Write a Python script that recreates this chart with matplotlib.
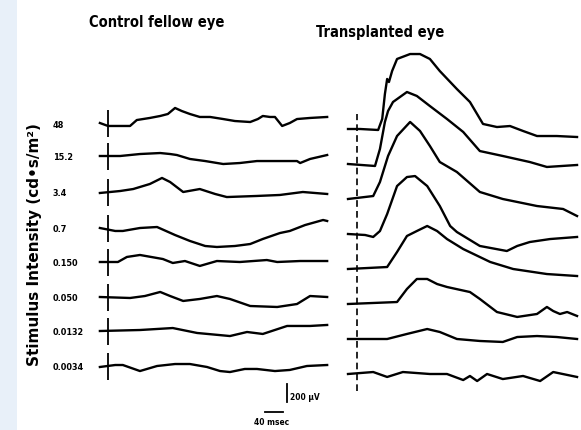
import numpy as np
import matplotlib
matplotlib.use("Agg")
import matplotlib.pyplot as plt
from matplotlib.patches import Rectangle
from matplotlib import font_manager

# ---------------------------------------------------------------------------
# Data: ERG traces, time in ms after flash, amplitude in uV (relative to baseline)
# ---------------------------------------------------------------------------
INTENSITIES = ["48", "15.2", "3.4", "0.7", "0.150", "0.050", "0.0132", "0.0034"]

# Control fellow eye
CTRL_T = [
    [-18, 0, 27, 49, 64, 93, 116, 133, 149, 164, 182, 204, 227, 256, 282, 316, 333, 344, 360, 371, 387, 404, 420, 449, 487],
    [-18, 27, 71, 116, 138, 153, 182, 216, 256, 293, 331, 382, 420, 427, 449, 487],
    [-18, 27, 56, 93, 120, 138, 167, 204, 238, 264, 331, 382, 433, 487],
    [-18, 16, 33, 71, 109, 149, 182, 216, 242, 282, 316, 344, 382, 404, 438, 478, 487],
    [-18, 22, 42, 71, 122, 144, 171, 204, 242, 293, 353, 376, 427, 487],
    [-18, 49, 82, 116, 138, 167, 204, 242, 271, 316, 376, 420, 449, 487],
    [-18, 71, 144, 198, 271, 309, 344, 398, 449, 487],
    [-18, 16, 33, 71, 109, 149, 182, 220, 249, 271, 304, 331, 371, 404, 442, 487],
]
CTRL_V = [
    [0, -33, -33, -33, 33, 56, 78, 100, 167, 133, 100, 67, 67, 44, 22, 11, 44, 78, 67, 67, -33, 0, 44, 56, 67],
    [0, 0, 22, 33, 22, 11, -33, -56, -89, -78, -56, -56, -56, -78, -33, 11],
    [-11, 11, 33, 89, 156, 111, 0, 33, -22, -56, -44, -33, 0, -22],
    [0, -33, -33, 0, 11, -78, -144, -200, -211, -200, -178, -122, -56, -33, 33, 89, 78],
    [0, 0, 56, 78, 33, -11, 11, -44, 11, 0, 22, 0, 11, 11],
    [0, -11, 11, 56, 11, -44, -22, 11, -22, -100, -111, -78, 11, 0],
    [0, 11, 33, -22, -56, -11, -33, 56, 56, 67],
    [-11, 11, 11, -56, 0, 22, 22, -11, -56, -67, -33, -33, -56, -44, 0, 11],
]

# Transplanted eye
TRANS_T = [
    [-20, 7, 47, 56, 62, 67, 71, 78, 89, 118, 140, 162, 184, 222, 251, 280, 311, 340, 369, 400, 444, 489],
    [-20, 40, 51, 62, 69, 80, 111, 133, 162, 200, 236, 273, 324, 384, 422, 489],
    [-20, 36, 51, 69, 89, 118, 140, 162, 184, 222, 273, 324, 400, 458, 489],
    [-20, 18, 36, 51, 67, 89, 111, 129, 156, 184, 207, 222, 273, 333, 356, 384, 429, 489],
    [-20, 67, 89, 111, 133, 156, 178, 200, 236, 296, 347, 422, 489],
    [-20, 89, 111, 133, 156, 178, 200, 251, 273, 311, 356, 400, 422, 436, 451, 467, 489],
    [-20, 67, 111, 156, 184, 222, 273, 324, 356, 400, 444, 489],
    [-20, 36, 67, 102, 162, 200, 236, 251, 267, 289, 324, 369, 407, 436, 489],
]
TRANS_V = [
    [0, 0, -11, 111, 389, 556, 522, 644, 778, 833, 833, 778, 644, 444, 300, 56, 22, 33, -22, -78, -78, -89],
    [0, -22, 167, 467, 589, 689, 800, 756, 644, 500, 356, 144, 89, 22, -33, -11],
    [0, 33, 189, 478, 700, 856, 756, 589, 411, 300, 78, 0, -78, -111, -189],
    [0, -11, -33, 33, 222, 533, 633, 644, 533, 311, 89, 22, -133, -189, -133, -89, -56, -33],
    [0, 22, 189, 367, 422, 478, 422, 333, 222, 78, 0, -56, -78],
    [0, 22, 167, 278, 278, 222, 189, 133, 56, -89, -144, -111, -33, -78, -111, -89, -133],
    [0, 0, 56, 111, 78, 0, -22, -33, 22, 33, 22, 0],
    [0, 22, -33, 22, 0, 0, -67, -22, -78, 0, -56, -22, -78, 22, -33],
]

SCALE_MS = 40
SCALE_UV = 200

# ---------------------------------------------------------------------------
# Layout (figure is 581 x 431 px)
# ---------------------------------------------------------------------------
W, H = 581, 431
MS_PER_PX = 40 / 18
UV_PER_PX = 200 / 18
Y_REF = 400  # pixel row used as 0 uV

CTRL_BASE_PX = [124, 157, 193, 229, 263, 298, 332, 367]
TRANS_BASE_PX = [130, 165, 200, 235, 270, 305, 340, 375]

# condensed bold font if one is installed
narrow = None
for f in sorted(font_manager.fontManager.ttflist, key=lambda f: f.fname):
    nm = (f.name + " " + f.fname).lower()
    if ("narrow" in nm or "condensed" in nm) and f.weight in (700, "bold") \
            and f.style == "normal":
        narrow = f.fname
        break
if narrow is not None:
    NARROW = font_manager.FontProperties(fname=narrow)
else:
    NARROW = font_manager.FontProperties(family="DejaVu Sans", weight="bold")


def nprop(size):
    p = NARROW.copy()
    p.set_size(size)
    p.set_weight("bold")
    return p


def add_panel(fig, x0, x1, y0, y1, stim_px):
    ax = fig.add_axes([x0 / W, 1 - y1 / H, (x1 - x0) / W, (y1 - y0) / H])
    ax.set_xlim((x0 - stim_px) * MS_PER_PX, (x1 - stim_px) * MS_PER_PX)
    ax.set_ylim((Y_REF - y1) * UV_PER_PX, (Y_REF - y0) * UV_PER_PX)
    ax.axis("off")
    return ax


fig = plt.figure(figsize=(W / 100, H / 100), dpi=100)
fig.patch.set_facecolor("white")
fig.add_artist(Rectangle((0, 0), 17 / W, 1, transform=fig.transFigure,
                         facecolor="#e8f0f9", edgecolor="none"))

ax_l = add_panel(fig, 90, 340, 95, 425, 108)
ax_r = add_panel(fig, 340, 581, 40, 400, 357)

LW = 1.7
for t, v, b in zip(CTRL_T, CTRL_V, CTRL_BASE_PX):
    off = (Y_REF - b) * UV_PER_PX
    ax_l.plot(t, np.array(v) + off, color="black", lw=LW, solid_joinstyle="round")
    ax_l.vlines(0, off - 150, off + 140, color="black", lw=1.3)

for t, v, b in zip(TRANS_T, TRANS_V, TRANS_BASE_PX):
    off = (Y_REF - b) * UV_PER_PX
    ax_r.plot(t, np.array(v) + off, color="black", lw=LW, solid_joinstyle="round")

ax_r.vlines(0, (Y_REF - 392) * UV_PER_PX, (Y_REF - 115) * UV_PER_PX,
            color="black", lw=1.2, linestyles=(0, (4, 2.5)))

# scale bar
sx, sy = 398, -33
ax_l.plot([sx, sx], [sy, sy + SCALE_UV], color="black", lw=1.3)
ax_l.plot([sx - 9 - SCALE_MS, sx - 9], [sy - 111, sy - 111], color="black", lw=1.3)
ax_l.text(sx + 6, sy + 60, f"{SCALE_UV} µV", fontproperties=nprop(6),
          va="center", ha="left")
ax_l.text(sx - 35, sy - 215, f"{SCALE_MS} msec", fontproperties=nprop(6),
          va="center", ha="center")

# titles
fig.text(157 / W, 1 - 22 / H, "Control fellow eye", fontproperties=nprop(10.5),
         ha="center", va="center")
fig.text(380 / W, 1 - 32 / H, "Transplanted eye", fontproperties=nprop(10.5),
         ha="center", va="center")

# intensity labels
for lab, b in zip(INTENSITIES, CTRL_BASE_PX):
    fig.text(53 / W, 1 - (b + 1) / H, lab, fontproperties=nprop(6.5),
             ha="left", va="center")

fig.text(35 / W, 1 - 245 / H, "Stimulus Intensity (cd•s/m²)", rotation=90,
         fontsize=11, fontweight="bold", family=["DejaVu Sans"],
         ha="center", va="center")

fig.savefig("out.png", dpi=100)
